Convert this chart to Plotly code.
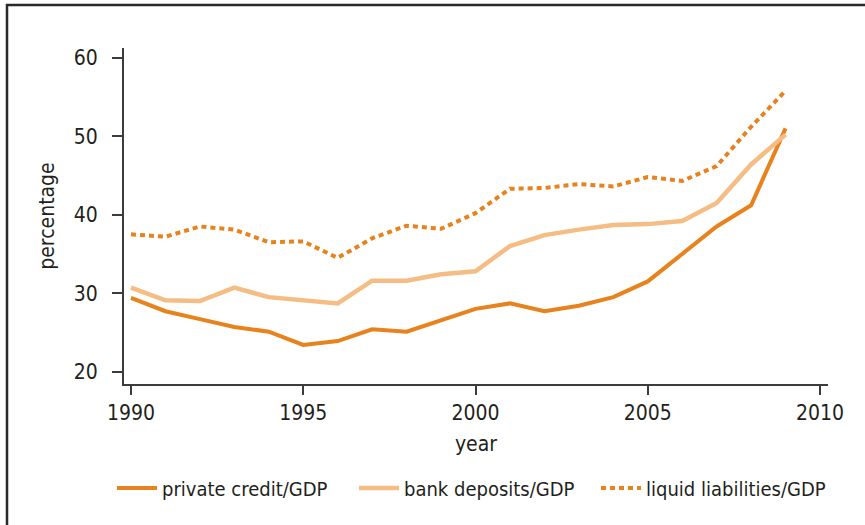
import plotly.graph_objects as go

years = list(range(1990, 2010))
private_credit = [29.4, 27.7, 26.7, 25.7, 25.1, 23.4, 23.9, 25.4, 25.1, 26.6,
                  28.0, 28.7, 27.7, 28.4, 29.5, 31.5, 35.0, 38.5, 41.2, 51.0]
bank_deposits = [30.7, 29.1, 29.0, 30.7, 29.5, 29.1, 28.7, 31.6, 31.6, 32.4,
                 32.8, 36.0, 37.4, 38.1, 38.7, 38.8, 39.2, 41.5, 46.4, 50.2]
liquid_liabilities = [37.5, 37.2, 38.5, 38.1, 36.5, 36.6, 34.5, 37.0, 38.6, 38.2,
                      40.2, 43.3, 43.4, 43.9, 43.6, 44.8, 44.3, 46.2, 51.2, 55.8]
x_ticks = [1990, 1995, 2000, 2005, 2010]
y_ticks = [20, 30, 40, 50, 60]

DARK = "#E7821D"
LIGHT = "#F5BC84"
TEXT = "#231F20"
AXIS = "#3c3c3c"
FONT = "Liberation Sans Narrow, DejaVu Sans Condensed, Arial Narrow, sans-serif"

fig = go.Figure()
fig.add_trace(go.Scatter(x=years, y=private_credit, mode="lines", name="private credit/GDP",
                         line=dict(color=DARK, width=4)))
fig.add_trace(go.Scatter(x=years, y=bank_deposits, mode="lines", name="bank deposits/GDP",
                         line=dict(color=LIGHT, width=4.5)))
fig.add_trace(go.Scatter(x=years, y=liquid_liabilities, mode="lines", name="liquid liabilities/GDP",
                         line=dict(color=DARK, width=4, dash="5px,4px")))

L, R, T, B = 124, 37, 48, 141
W, H = 865, 525
pw, ph = W - L - R, H - T - B

def px_x(p):
    return (p - L) / pw

def px_y(p):
    return (H - B - p) / ph

fig.update_layout(
    width=W, height=H,
    margin=dict(l=L, r=R, t=T, b=B, autoexpand=False),
    paper_bgcolor="white", plot_bgcolor="white",
    font=dict(family=FONT, size=20, color=TEXT),
    showlegend=True,
    legend=dict(orientation="h", x=px_x(112), xanchor="left", y=px_y(488), yanchor="middle",
                font=dict(size=20, color=TEXT), itemwidth=40, tracegroupgap=0,
                entrywidth=187, entrywidthmode="pixels"),
    xaxis=dict(range=[1989.797, 2010.232], tickvals=x_ticks, showgrid=False, zeroline=False,
               automargin=False,
               showline=True, linecolor=AXIS, linewidth=2, ticks="outside", ticklen=9,
               tickwidth=2, tickcolor=AXIS, tickfont=dict(size=21, color=TEXT),
               title=dict(text="year", font=dict(size=21, color=TEXT), standoff=12)),
    yaxis=dict(range=[18.43, 61.24], tickvals=y_ticks, showgrid=False, zeroline=False,
               automargin=False,
               showline=True, linecolor=AXIS, linewidth=2, ticks="outside", ticklen=10,
               tickwidth=2, tickcolor=AXIS, tickfont=dict(size=21, color=TEXT),
               ticklabelstandoff=10,
               title=dict(text="percentage", font=dict(size=21, color=TEXT), standoff=13)),
    shapes=[
        dict(type="line", xref="paper", yref="paper", x0=px_x(6), x1=px_x(866),
             y0=px_y(5), y1=px_y(5), line=dict(color="#2a2a2a", width=2.5)),
        dict(type="line", xref="paper", yref="paper", x0=px_x(7), x1=px_x(7),
             y0=px_y(4), y1=px_y(530), line=dict(color="#2a2a2a", width=2.5)),
    ],
)

fig.write_html("out.html", config={"displayModeBar": False},
               post_script="document.body.style.margin='0';document.body.style.overflow='hidden';")
